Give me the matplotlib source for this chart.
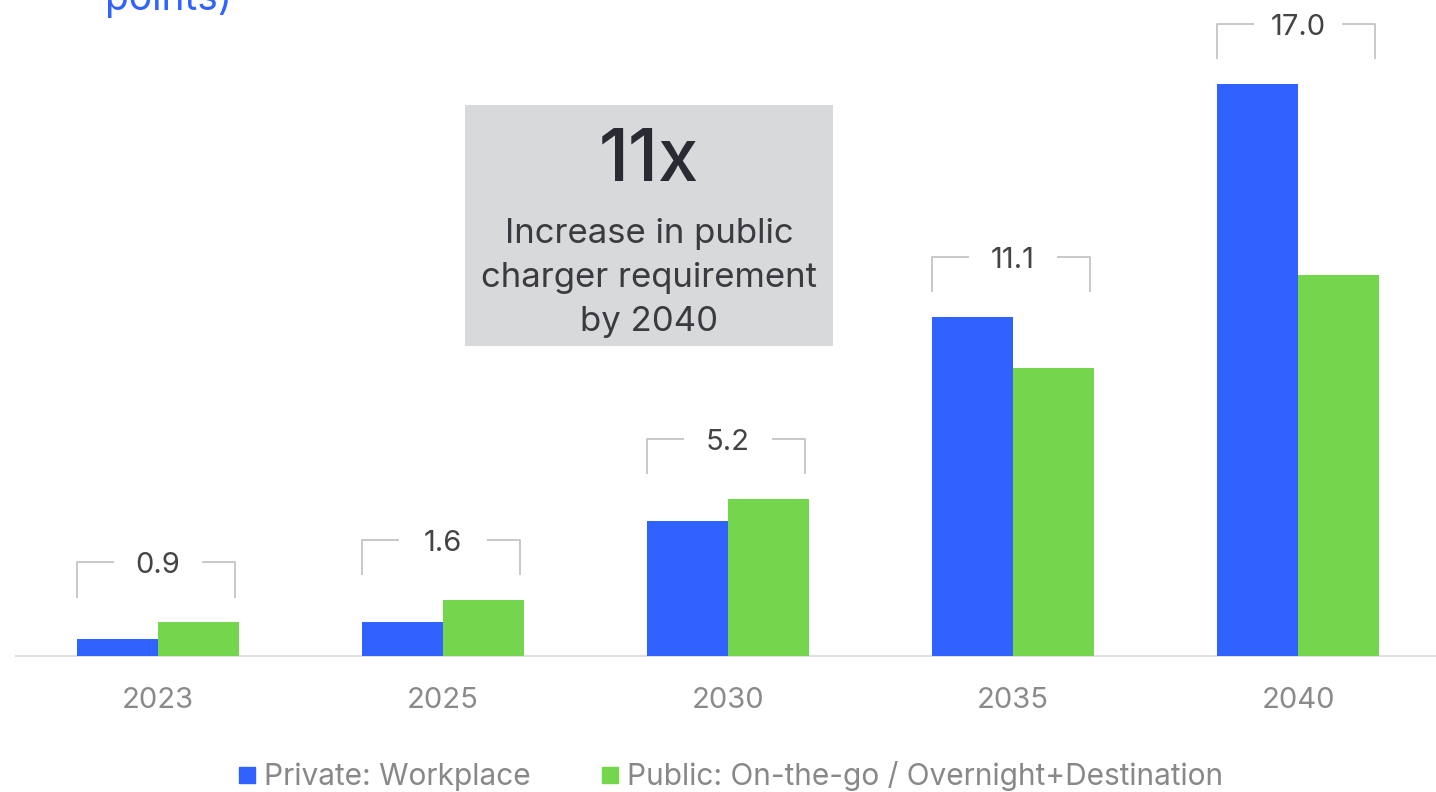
import matplotlib
matplotlib.use("Agg")
import matplotlib.pyplot as plt
from matplotlib.lines import Line2D
from matplotlib.patches import Rectangle

years = ["2023", "2025", "2030", "2035", "2040"]
private_workplace = [0.3, 0.6, 2.4, 6.05, 10.2]
public_chargers = [0.6, 1.0, 2.8, 5.14, 6.8]
totals = ["0.9", "1.6", "5.2", "11.1", "17.0"]
series_names = ["Private: Workplace", "Public: On-the-go / Overnight+Destination"]

BLUE = "#2f62ff"
GREEN = "#74d64c"
FONT = "Inter"

plt.rcParams["font.family"] = [FONT, "DejaVu Sans"]

fig = plt.figure(figsize=(14.36, 7.92), dpi=100)
W, H = 1436, 792
ax = fig.add_axes([16 / W, (H - 656) / H, 1 - 16 / W, 656 / H])

x = list(range(len(years)))
w = 0.284
ax.bar([i - w / 2 for i in x], private_workplace, width=w, color=BLUE, zorder=3)
ax.bar([i + w / 2 for i in x], public_chargers, width=w, color=GREEN, zorder=3)

ax.set_xlim(-0.498, 4.484)
ax.set_ylim(0, 11.70)

for s in ["top", "right", "left"]:
    ax.spines[s].set_visible(False)
ax.spines["bottom"].set_color("#e0e0e0")
ax.spines["bottom"].set_linewidth(1.5)
ax.set_yticks([])
ax.set_xticks(x)
ax.set_xticklabels(years, fontsize=21, color="#8a8a8a")
ax.tick_params(axis="x", length=0, pad=22)

# brackets with totals
bc = "#c4c4c4"
for i in x:
    m = max(private_workplace[i], public_chargers[i])
    yb = m + 0.44
    yt = m + 1.07
    xl = i - w + 0.0
    xr = i + w - 0.015
    gap = 0.155
    ax.plot([xl, xl, i - gap], [yb, yt, yt], color=bc, lw=1.3, solid_capstyle="butt", zorder=2)
    ax.plot([i + gap + 0.0, xr, xr], [yt, yt, yb], color=bc, lw=1.3, solid_capstyle="butt", zorder=2)
    ax.text(i, yt - 0.06, totals[i], ha="center", va="center", fontsize=21, color="#444444")

# callout box
fig.patches.append(Rectangle((465 / W, 1 - 346 / H), (833 - 465) / W, (346 - 105) / H,
                             transform=fig.transFigure, facecolor="#d8d9db", edgecolor="none", zorder=5))
cx = 649 / W
fig.text(cx, 1 - 162 / H, "11x", ha="center", va="center", fontsize=52, fontweight="medium",
         color="#2a2a33", zorder=6)
for k, line in enumerate(["Increase in public", "charger requirement", "by 2040"]):
    fig.text(cx, 1 - (234 + 44 * k) / H, line, ha="center", va="center", fontsize=25, color="#3a3a40", zorder=6)

# cropped title fragment (cut off at the top edge, as in the reference)
fig.text(105 / W, 1 - 10 / H, "points)", ha="left", va="baseline", fontsize=28, color=BLUE)

# legend
handles = [Line2D([], [], marker="s", linestyle="none", markersize=12, color=BLUE),
           Line2D([], [], marker="s", linestyle="none", markersize=12, color=GREEN)]
fig.legend(handles, series_names, loc="center", bbox_to_anchor=(731 / W, 1 - 776 / H), ncol=2,
           frameon=False, fontsize=21.5, labelcolor="#888888", handlelength=0.55, handletextpad=0.3,
           columnspacing=2.4, borderaxespad=0, borderpad=0)

fig.savefig("out.png", dpi=100)
